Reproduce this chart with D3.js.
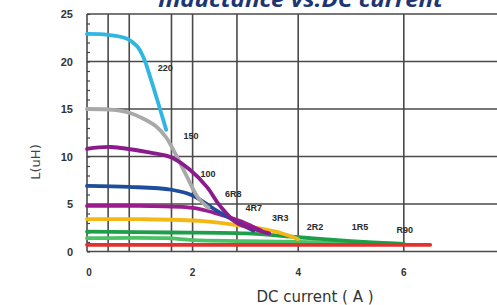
<!DOCTYPE html>
<html>
<head>
<meta charset="utf-8">
<script src="https://cdn.jsdelivr.net/npm/d3@7"></script>
<style>
  body { margin: 0; background: #fff; }
  svg { display: block; }
</style>
</head>
<body>
<div id="chart"></div>
<script>
// Dữ liệu: [dòng DC (A), L (uH)]
const xTicks = [0, 2, 4, 6];
const yTicks = [0, 5, 10, 15, 20, 25];
const xGrid = [0.4, 0.8, 1.6, 2, 2.84, 4, 6];

const s220 = [[0,22.9],[0.4,22.8],[0.76,22.4],[0.95,21.6],[1.08,20.3],[1.2,18.3],[1.35,15.6],[1.5,12.8]];
const s150 = [[0,15.0],[0.5,14.9],[0.8,14.6],[1.06,14.0],[1.3,13.2],[1.5,12.0],[1.7,10.0],[1.9,7.8],[2.1,5.7],[2.3,4.6]];
const s100 = [[0,10.8],[0.45,11.0],[1.2,10.4],[1.6,9.9],[1.95,8.6],[2.27,6.8],[2.52,4.8],[2.84,3.0],[3.2,2.3],[3.45,1.9]];
const s6R8 = [[0,6.9],[0.8,6.8],[1.6,6.5],[2.0,5.9],[2.4,4.5],[2.8,3.2],[3.15,2.2]];
const s4R7 = [[0,4.8],[1.0,4.8],[2.0,4.6],[2.4,4.1],[2.9,3.2],[3.3,2.2]];
const s3R3 = [[0,3.4],[1.0,3.4],[2.2,3.2],[2.8,2.8],[3.3,2.4],[3.7,1.9],[4.0,1.3]];
const s2R2 = [[0,2.1],[1.6,2.0],[3.0,1.9],[4.0,1.5],[5.0,1.1],[6.0,0.8]];
const s1R5 = [[0,1.4],[1.5,1.4],[2.0,1.2],[3.0,1.1],[4.0,1.0],[6.0,0.8]];
const sR90 = [[0,0.7],[6.5,0.7]];

const series = [
  { name: "1R5", color: "#4cc266", pts: s1R5 },
  { name: "2R2", color: "#1f9e4a", pts: s2R2 },
  { name: "R90", color: "#e2312f", pts: sR90 },
  { name: "3R3", color: "#f4b816", pts: s3R3 },
  { name: "4R7", color: "#9a1c8e", pts: s4R7 },
  { name: "6R8", color: "#1e4d9b", pts: s6R8 },
  { name: "150", color: "#a9a9a9", pts: s150 },
  { name: "100", color: "#8b1a8c", pts: s100 },
  { name: "220", color: "#2fb6e2", pts: s220 }
];

// Nhãn trên đường: [x, y]
const labelNames = ["220", "150", "100", "6R8", "4R7", "3R3", "2R2", "1R5", "R90"];
const labelPos = [[1.48,19.0],[1.97,11.85],[2.29,7.85],[2.77,5.75],[3.16,4.26],[3.66,3.2],[4.32,2.26],[5.17,2.26],[6.02,1.95]];

const width = 497, height = 305;
const svg = d3.select("#chart").append("svg")
    .attr("width", width).attr("height", height);

const x = d3.scaleLinear().domain([0, 7.765]).range([87, 497]);
const y = d3.scaleLinear().domain([0, 25]).range([251.5, 14]);

// Lưới
const grid = svg.append("g").attr("stroke", "#4a4a4a").attr("stroke-width", 1.6);
grid.selectAll(".hg").data(yTicks).join("line")
    .attr("x1", x(0)).attr("x2", width)
    .attr("y1", d => y(d)).attr("y2", d => y(d));
grid.selectAll(".vg").data([0].concat(xGrid)).join("line")
    .attr("x1", d => x(d)).attr("x2", d => x(d))
    .attr("y1", y(25)).attr("y2", y(0));

// Vạch nhỏ trục trái
svg.append("g")
    .attr("transform", `translate(${x(0)},0)`)
    .call(d3.axisRight(y).ticks(25).tickSize(3).tickFormat(""))
    .call(g => g.select(".domain").remove())
    .call(g => g.selectAll("line").attr("stroke", "#444").attr("stroke-width", 1.2));

// Đường cong
const line = d3.line().x(d => x(d[0])).y(d => y(d[1])).curve(d3.curveCatmullRom.alpha(0.5));
svg.append("g").selectAll("path").data(series).join("path")
    .attr("d", d => line(d.pts))
    .attr("fill", "none")
    .attr("stroke", d => d.color)
    .attr("stroke-width", 3.8)
    .attr("stroke-linecap", "round");

// Nhãn đường
svg.append("g").selectAll("text").data(labelNames).join("text")
    .attr("x", (d, i) => x(labelPos[i][0]))
    .attr("y", (d, i) => y(labelPos[i][1]))
    .attr("text-anchor", "middle")
    .style("font-family", "Liberation Sans, Arial, sans-serif")
    .style("font-size", "9px")
    .style("font-weight", "bold")
    .style("fill", "#2a2a2a")
    .text(d => d);

// Nhãn trục Y
svg.append("g").selectAll("text").data(yTicks).join("text")
    .attr("x", 73).attr("y", d => y(d) + 4)
    .attr("text-anchor", "end")
    .style("font-family", "Liberation Sans, Arial, sans-serif")
    .style("font-size", "11px")
    .style("font-weight", "bold")
    .style("fill", "#333")
    .text(d => d);

// Nhãn trục X
svg.append("g").selectAll("text").data(xTicks).join("text")
    .attr("x", d => x(d) + (d === 0 ? 2 : 0)).attr("y", 276)
    .attr("text-anchor", "middle")
    .style("font-family", "Liberation Sans, Arial, sans-serif")
    .style("font-size", "10px")
    .style("font-weight", "bold")
    .style("fill", "#333")
    .text(d => d);

// Tiêu đề trục
svg.append("text")
    .attr("transform", "translate(40,162) rotate(-90)")
    .attr("text-anchor", "middle")
    .style("font-family", "DejaVu Sans, sans-serif")
    .style("font-size", "13px")
    .style("fill", "#444")
    .text("L(uH)");

svg.append("text")
    .attr("x", 315).attr("y", 302)
    .attr("text-anchor", "middle")
    .style("font-family", "DejaVu Sans, sans-serif")
    .style("font-size", "15px")
    .style("fill", "#333")
    .text("DC current ( A )");

// Tiêu đề (bị cắt phía trên như ảnh gốc)
svg.append("text")
    .attr("x", 158).attr("y", 7)
    .attr("textLength", 285)
    .attr("lengthAdjust", "spacingAndGlyphs")
    .style("font-family", "Open Sans, sans-serif")
    .style("font-size", "22px")
    .style("font-weight", "bold")
    .style("font-style", "italic")
    .style("fill", "#1c3573")
    .text("Inductance vs.DC current");
</script>
</body>
</html>
